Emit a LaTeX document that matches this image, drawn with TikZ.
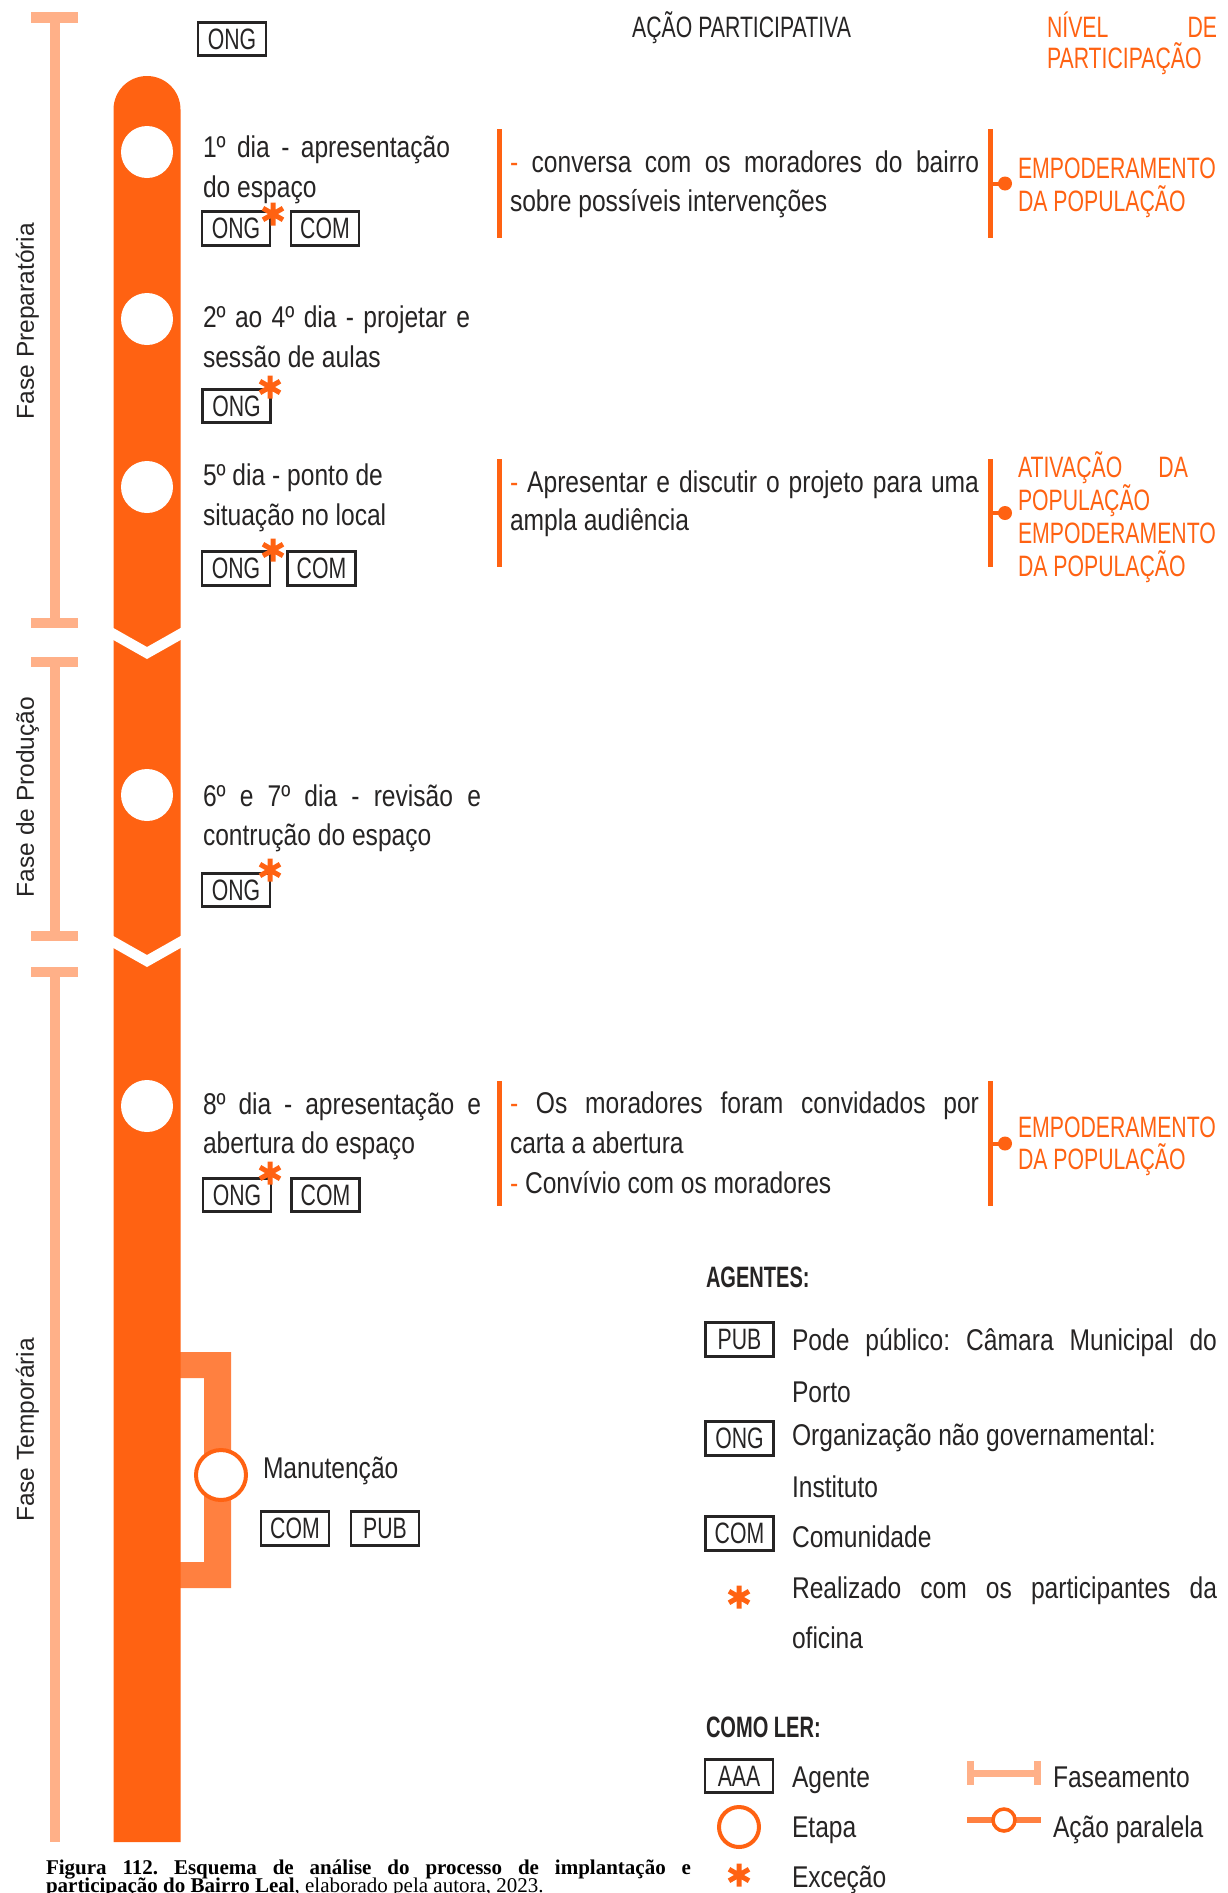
\documentclass[tikz,border=0pt]{standalone}
\usepackage{fontspec}
\setmainfont{Liberation Sans}
\newfontfamily\corpo{Liberation Sans}[FakeStretch=0.82]
\newfontfamily\caixa{Liberation Sans}[FakeStretch=0.72]
\newfontfamily\titulo{Liberation Sans}[FakeStretch=0.68]
\newfontfamily\legenda{Liberation Serif}
\frenchspacing

\definecolor{laranja}{RGB}{255,98,18}
\definecolor{laranjaclaro}{RGB}{255,176,136}
\definecolor{laranjamedio}{RGB}{255,128,64}
\definecolor{texto}{RGB}{38,36,36}

\tikzset{
  txt/.style={anchor=base west, inner sep=0pt, outer sep=0pt, text=texto,
    font=\corpo\fontsize{30}{36}\selectfont},
  nivel/.style={anchor=base west, inner sep=0pt, outer sep=0pt, text=laranja,
    font=\caixa\fontsize{29.5}{33}\selectfont},
  cabeca/.style={anchor=base west, inner sep=0pt, outer sep=0pt, text=texto,
    font=\titulo\bfseries\fontsize{29.5}{33}\selectfont},
  agente/.style={draw=texto, line width=2.6pt, minimum width=68pt, minimum height=33.5pt,
    inner sep=0pt, text=texto, font=\caixa\fontsize{29.5}{33}\selectfont},
  etapa/.style={circle, fill=white, minimum size=52pt, inner sep=0pt},
  etapaaberta/.style={circle, draw=laranja, fill=white, inner sep=0pt},
  fase/.style={fill=laranjaclaro},
  faselabel/.style={rotate=90, anchor=base, inner sep=0pt, text=texto,
    font=\fontsize{24.5}{28}\selectfont},
  acao/.style={draw=laranja, line width=5pt},
  ponto/.style={circle, fill=laranja, minimum size=14pt, inner sep=0pt},
  ligacao/.style={draw=laranja, line width=4pt},
  asterisco/.pic={
    \draw[laranja, line width=5pt] (0,-11.5) -- (0,11.5)
      (-10,-5.75) -- (10,5.75) (-10,5.75) -- (10,-5.75);
  },
  caption/.style={anchor=base west, inner sep=0pt, outer sep=0pt, text=black,
    font=\legenda\fontsize{21}{23}\selectfont},
}

\newcommand{\traco}{\textcolor{laranja}{-}}

\begin{document}
\begin{tikzpicture}[x=1pt, y=-1pt]
\useasboundingbox (0,0) rectangle (1228,1893);

% ---------- phase rulers ----------
\fill[fase] (50,17) rectangle (60,623);
\fill[fase] (31,12) rectangle (78,23);
\fill[fase] (31,618) rectangle (78,628);
\fill[fase] (50,662) rectangle (60,936);
\fill[fase] (31,657) rectangle (78,667);
\fill[fase] (31,931) rectangle (78,941);
\fill[fase] (50,972) rectangle (60,1842);
\fill[fase] (31,967) rectangle (78,977);

\node[faselabel] (fprep) at (34,321) {Fase Preparatória};
\node[faselabel] (fprod) at (34,797) {Fase de Produção};
\node[faselabel] (ftemp) at (34,1430) {Fase Temporária};

% ---------- parallel action bracket ----------
\fill[laranjamedio] (176,1352) -- (231,1352) -- (231,1588) -- (176,1588)
  -- (176,1562) -- (204,1562) -- (204,1378) -- (176,1378) -- cycle;

% ---------- main timeline ----------
\fill[laranja] (113.5,1842) -- (113.5,109.5) arc[start angle=180, end angle=360, radius=33.5]
  -- (180.5,1842) -- cycle;
\fill[white] (112,627.2) -- (147,647) -- (182,627.2) -- (182,639.2) -- (147,659) -- (112,639.2) -- cycle;
\fill[white] (112,935.2) -- (147,955) -- (182,935.2) -- (182,947.2) -- (147,967) -- (112,947.2) -- cycle;

\node[etapa] (c1) at (147,152) {};
\node[etapa] (c2) at (147,319) {};
\node[etapa] (c3) at (147,487) {};
\node[etapa] (c4) at (147,795) {};
\node[etapa] (c5) at (147,1106) {};
\node[etapaaberta, line width=4pt, minimum size=50pt] (cman) at (221,1475) {};

% ---------- headers ----------
\node[agente] (ongtopo) at (232,39) {ONG};
\node[anchor=base west, inner sep=0pt, text=texto, font=\caixa\fontsize{29.5}{33}\selectfont]
  (hacao) at (632,37) {AÇÃO PARTICIPATIVA};
\node[nivel] (hniv1) at (1047,37) {\makebox[170pt][s]{NÍVEL DE}};
\node[nivel] (hniv2) at (1047,68) {PARTICIPAÇÃO};

% ---------- stages ----------
\node[txt] (e1a) at (203,157) {\makebox[247pt][s]{1º dia - apresentação}};
\node[txt] (e1b) at (203,197) {do espaço};
\node[agente] (e1ong) at (236,228.5) {ONG};
\node[agente] (e1com) at (325,228.5) {COM};
\pic at (273,214) {asterisco};

\node[txt] (e2a) at (203,327) {\makebox[267pt][s]{2º ao 4º dia - projetar e}};
\node[txt] (e2b) at (203,367) {sessão de aulas};
\node[agente] (e2ong) at (236.5,406) {ONG};
\pic at (270,387) {asterisco};

\node[txt] (e3a) at (203,485) {5º dia - ponto de};
\node[txt] (e3b) at (203,525) {situação no local};
\node[agente] (e3ong) at (236,568.5) {ONG};
\node[agente] (e3com) at (321.5,568.5) {COM};
\pic at (273,550) {asterisco};

\node[txt] (e4a) at (203,806) {\makebox[278pt][s]{6º e 7º dia - revisão e}};
\node[txt] (e4b) at (203,845) {contrução do espaço};
\node[agente] (e4ong) at (236,890) {ONG};
\pic at (270,870) {asterisco};

\node[txt] (e5a) at (203,1114) {\makebox[278pt][s]{8º dia - apresentação e}};
\node[txt] (e5b) at (203,1153) {abertura do espaço};
\node[agente] (e5ong) at (237,1195) {ONG};
\node[agente] (e5com) at (325.5,1195) {COM};
\pic at (270,1173) {asterisco};

\node[txt] (eman) at (263,1478) {Manutenção};
\node[agente] (emcom) at (295,1528.5) {COM};
\node[agente] (empub) at (385,1528.5) {PUB};

% ---------- participative actions and participation level ----------
% group 1
\draw[acao] (499.5,129) -- (499.5,238);
\draw[acao] (990.5,129) -- (990.5,238);
\coordinate (r1) at (990.5,183.5);
\node[ponto] (p1) at (1005,183.5) {};
\draw[ligacao] (r1) -- (p1.center);
\node[txt] (a1a) at (510,172) {\makebox[469pt][s]{\traco{} conversa com os moradores do bairro}};
\node[txt] (a1b) at (510,211) {sobre possíveis intervenções};
\node[nivel] (n1a) at (1018,178) {EMPODERAMENTO};
\node[nivel] (n1b) at (1018,211) {DA POPULAÇÃO};

% group 2
\draw[acao] (499.5,459) -- (499.5,567);
\draw[acao] (990.5,459) -- (990.5,567);
\coordinate (r2) at (990.5,513);
\node[ponto] (p2) at (1005,513) {};
\draw[ligacao] (r2) -- (p2.center);
\node[txt] (a2a) at (510,492) {\makebox[469pt][s]{\traco{} Apresentar e discutir o projeto para uma}};
\node[txt] (a2b) at (510,530) {ampla audiência};
\node[nivel] (n2a) at (1018,477) {\makebox[170pt][s]{ATIVAÇÃO DA}};
\node[nivel] (n2b) at (1018,510) {POPULAÇÃO};
\node[nivel] (n2c) at (1018,543) {EMPODERAMENTO};
\node[nivel] (n2d) at (1018,576) {DA POPULAÇÃO};

% group 3
\draw[acao] (499.5,1081) -- (499.5,1206);
\draw[acao] (990.5,1081) -- (990.5,1206);
\coordinate (r3) at (990.5,1143.5);
\node[ponto] (p3) at (1005,1143.5) {};
\draw[ligacao] (r3) -- (p3.center);
\node[txt] (a3a) at (510,1113) {\makebox[469pt][s]{\traco{} Os moradores foram convidados por}};
\node[txt] (a3b) at (510,1153) {carta a abertura};
\node[txt] (a3c) at (510,1193) {\traco{} Convívio com os moradores};
\node[nivel] (n3a) at (1018,1137) {EMPODERAMENTO};
\node[nivel] (n3b) at (1018,1169) {DA POPULAÇÃO};

% ---------- agents ----------
\node[cabeca] (hag) at (706,1287) {AGENTES:};
\node[agente] (lpub) at (739.5,1339.5) {PUB};
\node[txt] (lpub1) at (792,1350) {\makebox[425pt][s]{Pode público: Câmara Municipal do}};
\node[txt] (lpub2) at (792,1402) {Porto};
\node[agente] (long) at (739.5,1438.5) {ONG};
\node[txt] (long1) at (792,1445) {Organização não governamental:};
\node[txt] (long2) at (792,1497) {Instituto};
\node[agente] (lcom) at (739.5,1533.5) {COM};
\node[txt] (lcom1) at (792,1547) {Comunidade};
\pic at (739,1597) {asterisco};
\node[txt] (last1) at (792,1598) {\makebox[425pt][s]{Realizado com os participantes da}};
\node[txt] (last2) at (792,1648) {oficina};

% ---------- how to read ----------
\node[cabeca] (hler) at (706,1737) {COMO LER:};
\node[agente] (laaa) at (739,1776) {AAA};
\node[txt] (laaat) at (792,1787) {Agente};
\node[etapaaberta, line width=4pt, minimum size=40pt] (letapa) at (739,1827) {};
\node[txt] (letapat) at (792,1837) {Etapa};
\pic at (739,1875) {asterisco};
\node[txt] (lexct) at (792,1887) {Exceção};

\fill[fase] (967,1770) rectangle (1041,1777);
\fill[fase] (967,1761) rectangle (974,1785);
\fill[fase] (1034,1761) rectangle (1041,1785);
\node[txt] (lfaset) at (1053,1787) {Faseamento};

\coordinate (lpa1) at (967,1820);
\coordinate (lpa2) at (1041,1820);
\draw[laranjamedio, line width=6pt] (lpa1) -- (lpa2);
\node[etapaaberta, line width=3.5pt, minimum size=22pt] (lpar) at (1004,1820) {};
\node[txt] (lpart) at (1053,1837) {Ação paralela};

% ---------- caption ----------
\node[caption] (cap1) at (46,1874)
  {\makebox[645pt][s]{\bfseries Figura 112. Esquema de análise do processo de implantação e}};
\node[caption] (cap2) at (46,1892)
  {\textbf{participação do Bairro Leal}, elaborado pela autora, 2023.};
\end{tikzpicture}
\end{document}
